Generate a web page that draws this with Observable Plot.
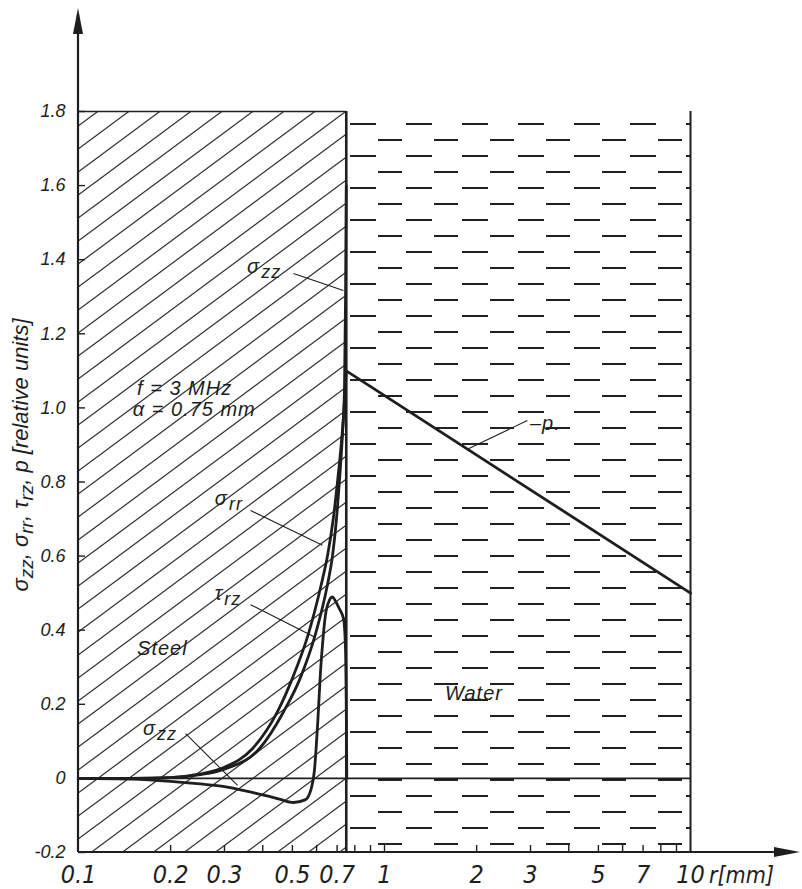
<!DOCTYPE html>
<html><head><meta charset="utf-8">
<script src="https://cdn.jsdelivr.net/npm/d3@7"></script>
<script src="https://cdn.jsdelivr.net/npm/@observablehq/plot@0.6"></script>
<style>body{margin:0;background:#fff} svg{display:block}</style>
</head><body><div id="chart"></div>
<script>
// ---- axes ----
const xTicks = [0.1, 0.2, 0.3, 0.5, 0.7, 1, 2, 3, 5, 7, 10];
const xTickLabels = ["0.1", "0.2", "0.3", "0.5", "0.7", "1", "2", "3", "5", "7", "10"];
const xMinorTicks = [0.2, 0.3, 0.4, 0.5, 0.6, 0.7, 0.8, 0.9, 1, 2, 3, 4, 5, 6, 7, 8, 9];
const yTicks = [-0.2, 0, 0.2, 0.4, 0.6, 0.8, 1.0, 1.2, 1.4, 1.6, 1.8];
const yTickLabels = ["-0.2", "0", "0.2", "0.4", "0.6", "0.8", "1.0", "1.2", "1.4", "1.6", "1.8"];
const rDomain = [0.1, 10];
const vDomain = [-0.2, 1.8];
const radius = 0.75; // steel / water boundary, mm

// ---- series (r in mm, relative units) ----
const sigmaZZ_r = [0.1, 0.15, 0.2, 0.25, 0.3, 0.39, 0.468, 0.53, 0.595, 0.65, 0.676, 0.70, 0.715, 0.729, 0.74, 0.746, 0.75];
const sigmaZZ_v = [0, 0, 0.002, 0.01, 0.025, 0.08, 0.18, 0.27, 0.39, 0.52, 0.60, 0.72, 0.82, 0.93, 1.05, 1.3, 1.6];
const sigmaRR_r = [0.1, 0.15, 0.2, 0.25, 0.3, 0.37, 0.447, 0.5, 0.564, 0.62, 0.651, 0.68, 0.702, 0.72, 0.735, 0.75];
const sigmaRR_v = [0, 0, 0.002, 0.012, 0.03, 0.08, 0.18, 0.27, 0.39, 0.52, 0.60, 0.70, 0.80, 0.89, 0.98, 1.1];
const tauRZ_r = [0.1, 0.15, 0.2, 0.25, 0.3, 0.378, 0.45, 0.504, 0.55, 0.575, 0.59, 0.605, 0.618, 0.63, 0.641, 0.66, 0.676, 0.69, 0.71, 0.735, 0.745, 0.75, 0.753];
const tauRZ_v = [0, -0.002, -0.008, -0.015, -0.022, -0.04, -0.055, -0.065, -0.058, -0.03, 0.02, 0.15, 0.29, 0.38, 0.44, 0.48, 0.49, 0.48, 0.46, 0.43, 0.36, 0.2, 0];
const pressure_r = [0.75, 10];
const pressure_v = [1.1, 0.5];

// ---- annotations ----
const annoR = [0.357, 0.156, 0.151, 0.280, 0.280, 0.156, 0.163, 1.582, 3.0];
const annoV = [1.363, 1.033, 0.977, 0.737, 0.480, 0.332, 0.116, 0.21, 0.939];
const annoMain = ["σ", "f = 3 MHz", "α = 0.75 mm", "σ", "τ", "Steel", "σ", "Water", "–p."];
const annoSub = ["zz", "", "", "rr", "rz", "", "zz", "", ""];
const leaderR1 = [0.504, 0.365, 0.365, 0.224, 2.93];
const leaderV1 = [1.363, 0.723, 0.469, 0.121, 0.966];
const leaderR2 = [0.734, 0.627, 0.595, 0.331, 1.88];
const leaderV2 = [1.317, 0.629, 0.380, -0.019, 0.890];

const toRows = (rs, vs) => rs.map((r, i) => ({r, v: vs[i]}));
const series = [toRows(sigmaZZ_r, sigmaZZ_v), toRows(sigmaRR_r, sigmaRR_v), toRows(tauRZ_r, tauRZ_v)];
const leaders = leaderR1.map((r, i) => ({r1: r, v1: leaderV1[i], r2: leaderR2[i], v2: leaderV2[i]}));
const xLabelRows = xTicks.map((t, i) => ({r: t, label: xTickLabels[i]}));

const ink = "#1e1e1e";
const font = "'Liberation Sans', Arial, sans-serif";
const narrow = "'Liberation Sans Narrow', 'DejaVu Sans Condensed', " + font;
const W = 802, H = 889, mL = 78, mR = 112, mT = 111, mB = 37;
const tickLenV = 7 / ((H - mT - mB) / (vDomain[1] - vDomain[0]));
const tickLenR = Math.pow(10, 7 / ((W - mL - mR) / 2));
const ylab = new Map(yTicks.map((t, i) => [t, yTickLabels[i]]));

const fig = Plot.plot({
  width: W, height: H,
  marginLeft: mL, marginRight: mR, marginTop: mT, marginBottom: mB,
  x: {type: "log", domain: rDomain, axis: null},
  y: {domain: vDomain},
  style: {background: "white", fontFamily: font, color: ink},
  marks: [
    Plot.rect([{}], {x1: rDomain[0], x2: radius, y1: vDomain[0], y2: vDomain[1], fill: "url(#hatch)"}),
    Plot.rect([{}], {x1: radius, x2: rDomain[1], y1: vDomain[0], y2: vDomain[1], fill: "url(#dashes)"}),
    Plot.ruleY([0], {stroke: ink, strokeWidth: 1.6}),
    Plot.ruleY([vDomain[1]], {x1: rDomain[0], x2: radius, stroke: ink, strokeWidth: 1.6}),
    Plot.ruleX([radius], {stroke: ink, strokeWidth: 2.6}),
    Plot.ruleX([rDomain[1]], {stroke: ink, strokeWidth: 2}),
    Plot.ruleX(xMinorTicks, {x: d => d, y1: vDomain[0], y2: vDomain[0] + tickLenV, stroke: ink, strokeWidth: 1.4}),
    Plot.ruleY(yTicks, {y: d => d, x1: rDomain[0], x2: rDomain[0] * tickLenR, stroke: ink, strokeWidth: 1.4}),
    ...series.map(s => Plot.line(s, {x: "r", y: "v", curve: "monotone-x", stroke: ink, strokeWidth: 2.8})),
    Plot.line(toRows(pressure_r, pressure_v), {x: "r", y: "v", stroke: ink, strokeWidth: 2.8}),
    Plot.link(leaders, {x1: "r1", y1: "v1", x2: "r2", y2: "v2", stroke: ink, strokeWidth: 1.1}),
    Plot.axisY({ticks: yTicks, tickSize: 0, tickPadding: 13, tickFormat: d => ylab.get(d), fontSize: 18, fontStyle: "italic", fill: ink}),
    Plot.text(xLabelRows, {x: "r", y: vDomain[0], text: "label", dy: 22, fontSize: 25, fontStyle: "italic", fill: ink, fontFamily: narrow, lineAnchor: "middle"})
  ]
});

const svg = d3.select(fig);
svg.insert("defs", ":first-child").html(`
  <pattern id="hatch" patternUnits="userSpaceOnUse" width="31" height="23">
    <path d="M-3,25.2L34,-2.2M-3,2.2L3,-2.2M28,25.2L34,20.8" stroke="#333" stroke-width="1.3" fill="none"/>
  </pattern>
  <pattern id="dashes" patternUnits="userSpaceOnUse" x="347" y="120" width="56" height="32">
    <path d="M3,4H29M31,20H55" stroke="#222" stroke-width="2" fill="none"/>
  </pattern>`);

const xs = fig.scale("x"), ys = fig.scale("y");
const x0 = xs.apply(rDomain[0]), yb = ys.apply(vDomain[0]);
// axis lines with arrowheads
svg.append("path").attr("d", `M${x0},${yb}V14`).attr("stroke", ink).attr("stroke-width", 2.2);
svg.append("path").attr("d", `M${x0},8L${x0 - 5},34L${x0 + 5},34Z`).attr("fill", ink);
svg.append("path").attr("d", `M${x0},${yb}H790`).attr("stroke", ink).attr("stroke-width", 2.2);
svg.append("path").attr("d", `M800,${yb}L774,${yb - 5}L774,${yb + 5}Z`).attr("fill", ink);

// axis name "r [mm]"
svg.append("text").attr("x", 709).attr("y", yb + 31).attr("text-anchor", "start").attr("font-family", narrow)
  .attr("font-size", 23).attr("font-style", "italic").attr("fill", ink).text("r[mm]");

// y axis title with subscripts
const yt = svg.append("text").attr("transform", `translate(28,455) rotate(-90)`).attr("text-anchor", "middle")
  .attr("font-family", font).attr("font-size", 22).attr("font-style", "italic").attr("fill", ink);
[["σ", "zz", ", "], ["σ", "rr", ", "], ["τ", "rz", ", "], ["p [relative units]", "", ""]].forEach(([m, s, t]) => {
  yt.append("tspan").text(m);
  if (s) { yt.append("tspan").attr("dy", 5).attr("font-size", 19).text(s); yt.append("tspan").attr("dy", -5).text(t); }
});

// annotations
annoR.forEach((r, i) => {
  const t = svg.append("text").attr("x", xs.apply(r)).attr("y", ys.apply(annoV[i])).attr("text-anchor", "start")
    .attr("font-family", font).attr("font-size", 20).attr("letter-spacing", 1).attr("font-style", "italic").attr("fill", ink).text(annoMain[i]);
  if (annoSub[i]) t.append("tspan").attr("dy", 5).attr("dx", 1).attr("font-size", 18).text(annoSub[i]);
});

document.getElementById("chart").appendChild(fig);
</script>
</body></html>
